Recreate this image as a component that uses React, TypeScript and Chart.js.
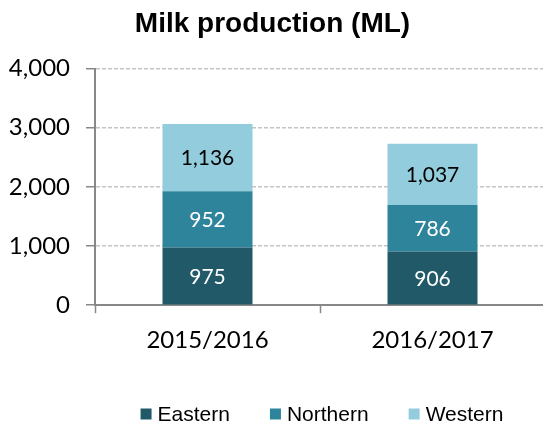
import React, { useEffect, useRef } from "react";
import { Chart, registerables } from "chart.js";

Chart.register(...registerables);

const categories = ["2015/2016", "2016/2017"];
const seriesNames = ["Eastern", "Northern", "Western"];
const eastern = [975, 906];
const northern = [952, 786];
const western = [1136, 1037];
const yTicks = [0, 1000, 2000, 3000, 4000];

const colors = ["#215968", "#2E849B", "#93CDDD"];
const labelColors = ["#ffffff", "#ffffff", "#000000"];

const fmt = (v: number) => v.toLocaleString("en-US");

const labelPlugin = {
  id: "segLabels",
  afterDatasetsDraw(chart: any) {
    const ctx = chart.ctx;
    ctx.save();
    ctx.font = "21px Lato";
    ctx.textAlign = "center";
    ctx.textBaseline = "middle";
    chart.data.datasets.forEach((ds: any, i: number) => {
      const meta = chart.getDatasetMeta(i);
      meta.data.forEach((el: any, j: number) => {
        const v = ds.data[j];
        ctx.fillStyle = labelColors[i];
        ctx.fillText(fmt(v), el.x, (el.y + el.base) / 2 + 1);
      });
    });
    ctx.restore();
  },
};

const legendPlugin = {
  id: "bottomLegend",
  afterDraw(chart: any) {
    const ctx = chart.ctx;
    ctx.save();
    ctx.font = "21px 'Liberation Sans'";
    ctx.textBaseline = "middle";
    ctx.textAlign = "left";
    const box = 11;
    const gapText = 6;
    const gapItem = 40;
    const items = chart.data.datasets.map((ds: any) => ({
      text: ds.label,
      color: ds.backgroundColor,
      w: ctx.measureText(ds.label).width,
    }));
    const total =
      items.reduce((s: number, it: any) => s + box + gapText + it.w, 0) +
      gapItem * (items.length - 1);
    const cx = (chart.chartArea.left + chart.chartArea.right) / 2 + 2;
    let x = cx - total / 2;
    const y = 414;
    items.forEach((it: any) => {
      ctx.fillStyle = it.color;
      ctx.fillRect(x, y - box / 2, box, box);
      ctx.fillStyle = "#000";
      ctx.fillText(it.text, x + box + gapText, y + 1);
      x += box + gapText + it.w + gapItem;
    });
    ctx.restore();
  },
};

export default function App() {
  const ref = useRef<HTMLCanvasElement>(null);
  useEffect(() => {
    if (!ref.current) return;
    const chart = new Chart(ref.current, {
      type: "bar",
      data: {
        labels: categories,
        datasets: [eastern, northern, western].map((d, i) => ({
          label: seriesNames[i],
          data: d,
          backgroundColor: colors[i],
          borderWidth: 0,
          barPercentage: 0.4,
          categoryPercentage: 1,
        })),
      },
      options: {
        animation: false,
        responsive: false,
        devicePixelRatio: 1,
        layout: { padding: { left: 0, right: 15, top: 0, bottom: 57 } },
        plugins: {
          tooltip: { enabled: false },
          legend: { display: false },
          title: {
            display: true,
            text: "Milk production (ML)",
            color: "#000",
            font: { family: "Liberation Sans", size: 28, weight: "bold" },
            padding: { top: 7, bottom: 28 },
          },
        },
        scales: {
          x: {
            stacked: true,
            offset: true,
            grid: {
              offset: true,
              drawOnChartArea: false,
              drawTicks: true,
              tickLength: 8,
              tickColor: "#888",
              tickWidth: 1.5,
            },
            border: { color: "#888", width: 2 },
            ticks: {
              color: "#000",
              padding: 13,
              font: { family: "Lato", size: 24 },
            },
          },
          y: {
            stacked: true,
            min: 0,
            max: 4000,
            afterBuildTicks: (scale: any) => {
              scale.ticks = yTicks.map((v) => ({ value: v }));
            },
            afterFit: (scale: any) => {
              scale.width = 95;
            },
            grid: {
              color: "#c4c4c4",
              lineWidth: 1.5,
              tickLength: 9,
              tickColor: "#888",
              tickWidth: 1.5,
              tickBorderDash: [],
            },
            border: { color: "#888", width: 2, dash: [4, 2] },
            ticks: {
              color: "#000",
              padding: 16,
              font: { family: "Lato", size: 24 },
              callback: (v: any) => fmt(Number(v)),
            },
          },
        },
      },
      plugins: [labelPlugin, legendPlugin],
    });
    return () => chart.destroy();
  }, []);
  return (
    <div
      style={{
        position: "absolute",
        left: 0,
        top: 0,
        width: 543,
        height: 425,
        overflow: "hidden",
        background: "#fff",
      }}
    >
      <canvas ref={ref} width={560} height={425} style={{ width: 560, height: 425 }} />
    </div>
  );
}
